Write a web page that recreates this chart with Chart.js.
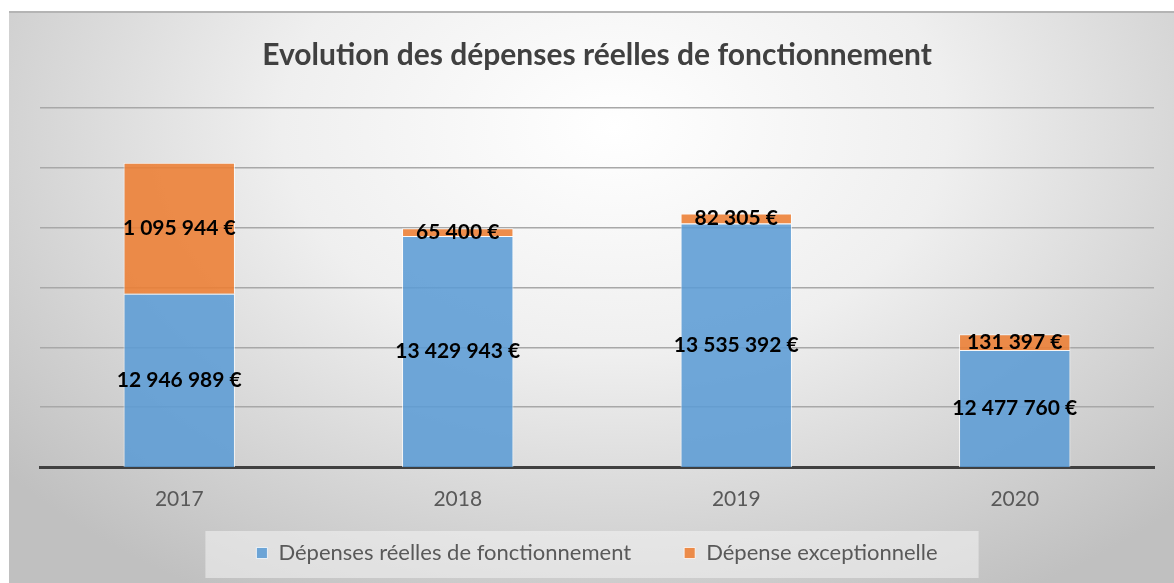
<!DOCTYPE html>
<html lang="fr">
<head>
<meta charset="utf-8">
<script src="https://cdn.jsdelivr.net/npm/chart.js@4.4.0/dist/chart.umd.min.js"></script>
<style>
  html, body { margin: 0; padding: 0; background: #ffffff; }
  #cadre {
    position: absolute; left: 9px; top: 11px; width: 1165px; height: 572px;
    border-top: 2px solid #b4b4b4; box-sizing: border-box;
    background: radial-gradient(ellipse 68% 95% at 52% 20%, #ffffff 0%, #efefef 42%, #d0d0d0 80%, #c0c0c0 100%);
  }
</style>
</head>
<body>
<div id="cadre"><canvas id="chartDepenses"></canvas></div>
<script>
// Données
const annees = ['2017', '2018', '2019', '2020'];
const depensesReelles = [12946989, 13429943, 13535392, 12477760];
const depensesExceptionnelles = [1095944, 65400, 82305, 131397];
const axeMin = 11500000;
const axeMax = 14500000;
const axePas = 500000;

const police = 'Lato, "Open Sans", sans-serif';

function formatEuro(v) {
    return String(v).replace(/\B(?=(\d{3})+(?!\d))/g, ' ') + ' €';
}

// étiquettes de valeurs au centre de chaque segment visible
const etiquettesPlugin = {
    id: 'etiquettes',
    afterDatasetsDraw(chart) {
        const ctx = chart.ctx;
        const bas = chart.chartArea.bottom;
        ctx.save();
        ctx.font = 'bold 21px ' + police;
        ctx.fillStyle = '#000000';
        ctx.textAlign = 'center';
        ctx.textBaseline = 'middle';
        chart.data.datasets.forEach((ds, i) => {
            const meta = chart.getDatasetMeta(i);
            meta.data.forEach((bar, j) => {
                const y = (Math.min(bar.y, bas) + Math.min(bar.base, bas)) / 2;
                ctx.fillText(formatEuro(ds.data[j]), bar.x, y);
            });
        });
        ctx.restore();
    }
};

// l'axe x est étroit pour laisser place à la légende : on agrandit sa zone d'étiquettes après la mise en page
const miseEnPagePlugin = {
    id: 'miseEnPage',
    afterLayout(chart) {
        const x = chart.scales.x;
        x.bottom = x.top + 60;
        x.height = 60;
    },
    beforeDraw(chart) {
        const lg = chart.legend;
        if (!lg || !lg.legendHitBoxes || !lg.legendHitBoxes.length) return;
        const boxes = lg.legendHitBoxes;
        const dernier = boxes[boxes.length - 1];
        const gauche = boxes[0].left - 51;
        const droite = dernier.left + dernier.width + 41;
        const haut = boxes[0].top + boxes[0].height / 2 - 22;
        const ctx = chart.ctx;
        ctx.save();
        ctx.fillStyle = 'rgba(244,244,244,0.55)';
        ctx.fillRect(gauche, haut, droite - gauche, 47);
        ctx.restore();
    }
};

const ctx = document.getElementById('chartDepenses').getContext('2d');
new Chart(ctx, {
    type: 'bar',
    data: {
        labels: annees,
        datasets: [{
            label: 'Dépenses réelles de fonctionnement',
            data: depensesReelles,
            backgroundColor: 'rgba(91,155,213,0.87)',
            borderColor: 'rgba(255,255,255,0.75)',
            borderWidth: 1
        }, {
            label: 'Dépense exceptionnelle',
            data: depensesExceptionnelles,
            backgroundColor: 'rgba(237,125,49,0.87)',
            borderColor: 'rgba(255,255,255,0.75)',
            borderWidth: 1
        }]
    },
    options: {
        responsive: true,
        maintainAspectRatio: false,
        animation: false,
        layout: { padding: { left: 31, right: 20, top: 0, bottom: 9 } },
        datasets: { bar: { categoryPercentage: 1, barPercentage: 0.4 } },
        plugins: {
            title: {
                display: true,
                text: 'Evolution des dépenses réelles de fonctionnement',
                color: '#404040',
                font: { family: police, size: 30, weight: 'bold' },
                padding: { top: 24, bottom: 35 }
            },
            legend: {
                position: 'bottom',
                labels: {
                    color: '#595959',
                    font: { family: police, size: 22 },
                    boxWidth: 11,
                    boxHeight: 11,
                    padding: 53
                }
            },
            tooltip: { enabled: false }
        },
        scales: {
            x: {
                stacked: true,
                grid: { display: false, drawTicks: false },
                border: { display: true, color: '#404040', width: 3 },
                ticks: { color: '#595959', font: { family: police, size: 21 }, padding: 20 },
                afterFit: (scale) => { scale.height = 22; }
            },
            y: {
                stacked: true,
                min: axeMin,
                max: axeMax,
                grid: {
                    drawTicks: false,
                    lineWidth: 1.5,
                    color: (c) => c.tick && c.tick.value === axeMin ? 'rgba(0,0,0,0)' : '#a8a8a8'
                },
                border: { display: false },
                ticks: { display: false, stepSize: axePas },
                afterFit: (scale) => { scale.width = 0; }
            }
        }
    },
    plugins: [miseEnPagePlugin, etiquettesPlugin]
});
</script>
</body>
</html>
